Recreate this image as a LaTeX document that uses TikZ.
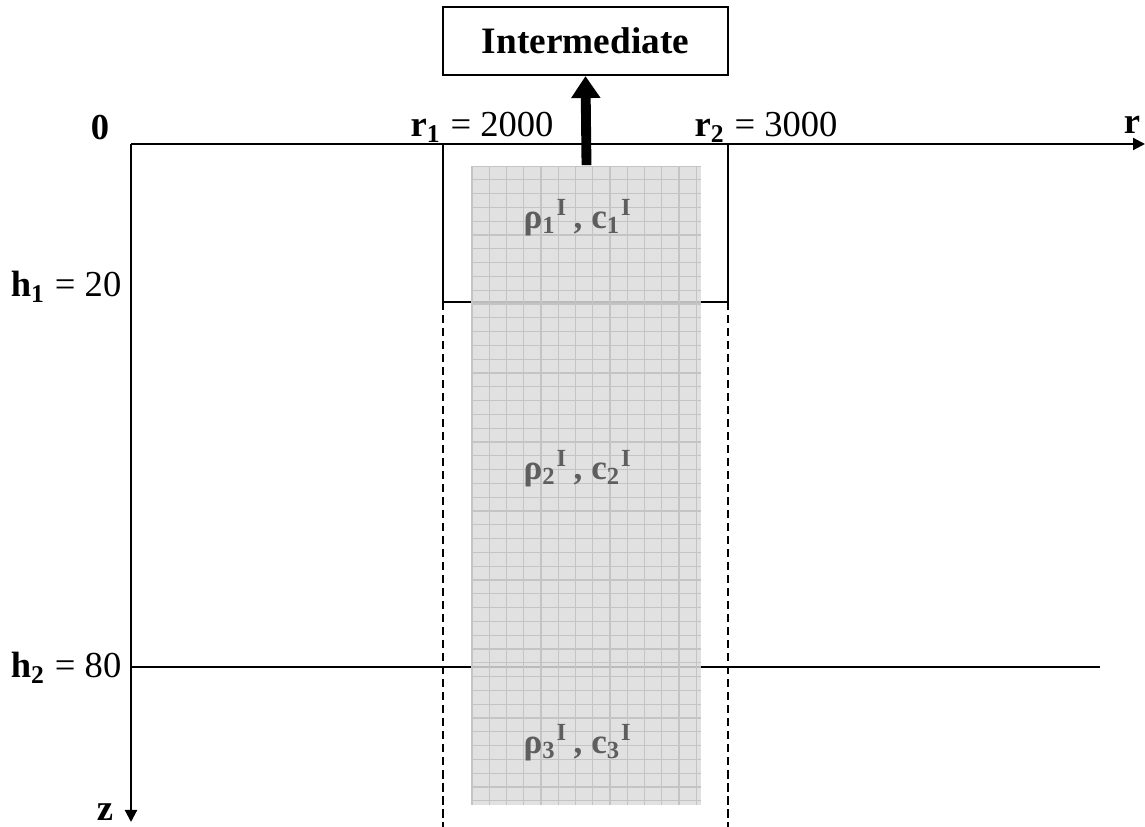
\documentclass[tikz,border=0pt]{standalone}
\usepackage{fontspec}
\setmainfont{Liberation Serif}
\usetikzlibrary{arrows.meta,positioning}
\definecolor{colfill}{HTML}{DCDCDC}
\definecolor{colgrid}{HTML}{C4C4C4}
\definecolor{coltext}{HTML}{5E5E5E}
\newcommand{\laytext}[1]{\textbf{ρ\textsubscript{#1}\textsuperscript{I}\,, c\textsubscript{#1}\textsuperscript{I}}}

\begin{document}
\begin{tikzpicture}[x=0.01cm, y=0.01cm,
    axis/.style={line width=0.6pt, -{Triangle[length=0.12cm, width=0.12cm]}},
    bound/.style={line width=0.5pt},
    cut/.style={line width=0.6pt, dash pattern=on 2.3pt off 1.4pt},
    column/.style={fill=colfill, fill opacity=0.85, minimum width=2.29cm, minimum height=6.39cm, inner sep=0pt},
    box/.style={draw, line width=0.6pt, minimum width=2.85cm, minimum height=0.68cm, font=\fontsize{10.6}{12}\selectfont\bfseries},
    lift/.style={line width=2.8pt, -{Triangle[length=0.22cm, width=0.28cm]}},
    tag/.style={inner sep=0pt, font=\fontsize{10.4}{12}\selectfont},
    layer/.style={inner sep=0pt, text=coltext, font=\fontsize{10}{12}\selectfont}
  ]
    \useasboundingbox (0,0) rectangle (1145,827);

    % axes
    \coordinate (o) at (131,683);
    \coordinate (rend) at (1145,683);
    \coordinate (zend) at (131,5);
    \draw[axis] (o) -- (rend);
    \draw[axis] (o) -- (zend);

    % source block and interfaces
    \draw[bound] (443,683) rectangle (728,525);
    \draw[cut] (443,525) -- (443,0);
    \draw[cut] (728,525) -- (728,0);
    \draw[bound] (131,160) -- (1100,160);

    % meshed column
    \node[column] (col) at (586.5,341.5) {};
    \draw[colgrid, line width=0.3pt, shift={(472,661)}] (0,-639) grid[xstep=17.25, ystep=13.8] (229,0);

    \node[box] (inter) at (585.5,786) {Intermediate};
    \draw[lift] (col.north) -- (inter.south);

    % labels
    \node[tag] (zero) at (100,699) {\textbf{0}};
    \node[tag] (rlab) at (1132,702) {\textbf{r}};
    \node[tag] (zlab) at (105,15) {\textbf{z}};
    \node[tag, anchor=base east] (h1) at (122,530) {\textbf{h\textsubscript{1}} = 20};
    \node[tag, anchor=base east] (h2) at (122,149) {\textbf{h\textsubscript{2}} = 80};
    \node[tag, anchor=base] (r1) at (482,690) {\textbf{r\textsubscript{1}} = 2000};
    \node[tag, anchor=base] (r2) at (766,690) {\textbf{r\textsubscript{2}} = 3000};

    \node[layer] (l1) at (578,609) {\laytext{1}};
    \node[layer] (l2) at (578,358) {\laytext{2}};
    \node[layer] (l3) at (578,84) {\laytext{3}};
  \end{tikzpicture}
\end{document}
